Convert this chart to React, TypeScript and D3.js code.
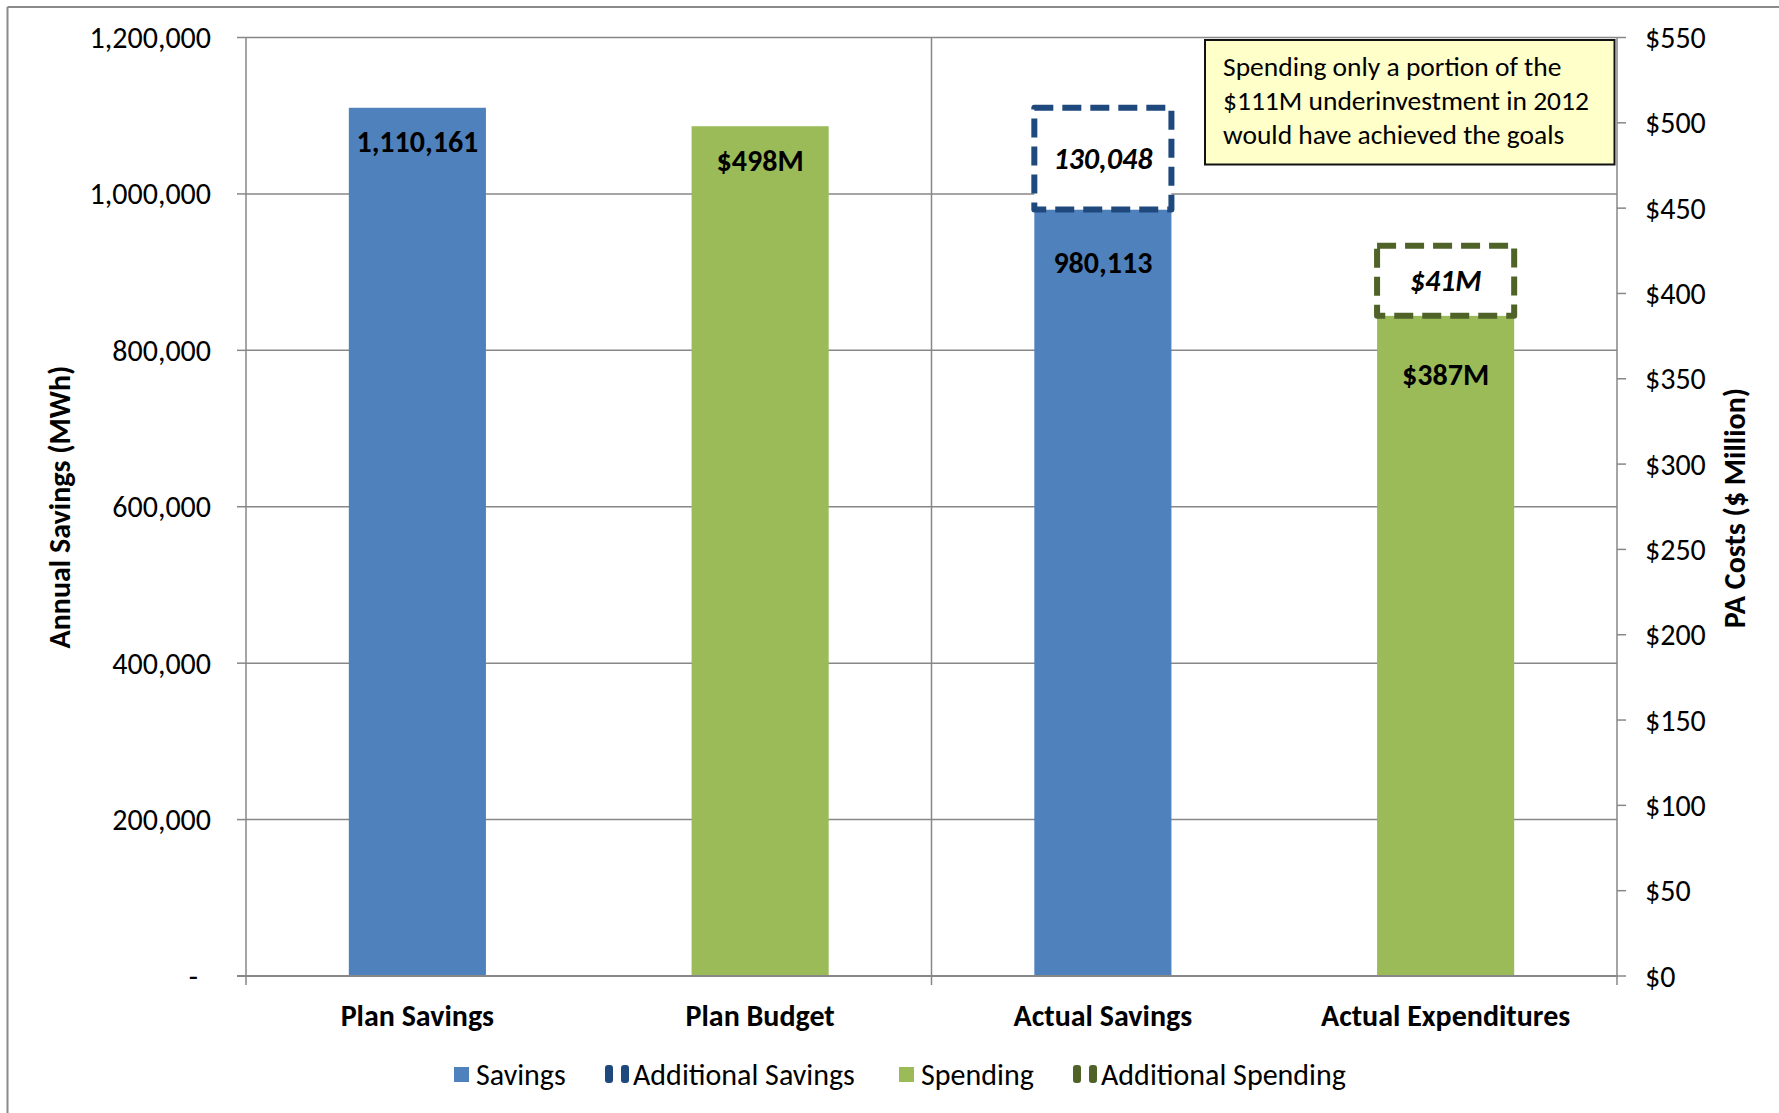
import React from "react";
import * as d3 from "d3";

const categories = ["Plan Savings", "Plan Budget", "Actual Savings", "Actual Expenditures"];
// which axis each bar uses: "left" = MWh, "right" = $ Million
const barAxis = ["left", "right", "left", "right"];
const baseValues = [1110161, 498, 980113, 387];
const baseLabels = ["1,110,161", "$498M", "980,113", "$387M"];
const additionalValues = [0, 0, 130048, 41];
const additionalLabels = ["", "", "130,048", "$41M"];
const leftTicks = [0, 200000, 400000, 600000, 800000, 1000000, 1200000];
const rightTicks = [0, 50, 100, 150, 200, 250, 300, 350, 400, 450, 500, 550];
const legendItems = ["Savings", "Additional Savings", "Spending", "Additional Spending"];
const noteLines = [
  "Spending only a portion of the",
  "$111M underinvestment in 2012",
  "would have achieved the goals",
];

const FONT = "Carlito, Lato, 'Open Sans', sans-serif";
const BLUE = "#4F81BD";
const GREEN = "#9BBB59";
const DARK_BLUE = "#1F497D";
const DARK_GREEN = "#4F6228";
const GRID = "#878787";

const W = 1779;
const H = 1113;
const L = 246;
const R = 1617;
const T = 37.5;
const B = 976;
const labelOffsets = [34, 34, 53, 59];
const FS = 30;

export default function App() {
  const x = d3.scaleBand<string>().domain(categories).range([L, R]).padding(0);
  const yL = d3.scaleLinear().domain([0, 1200000]).range([B, T]);
  const yR = d3.scaleLinear().domain([0, 550]).range([B, T]);
  const bw = x.bandwidth() * 0.4;
  const fmtL = (v: number) => (v === 0 ? "-" : d3.format(",")(v));
  const fmtR = (v: number) => "$" + v;
  const mid = (L + R) / 2;

  return (
    <svg
      width={W}
      height={H}
      style={{ position: "absolute", left: 0, top: 0, background: "#fff" }}
      fontFamily={FONT}
    >
      <rect x={0} y={0} width={W} height={H} fill="#fff" />
      {/* outer border */}
      <line x1={7.5} y1={7} x2={W} y2={7} stroke="#8a8a8a" strokeWidth={2} />
      <line x1={7.5} y1={7} x2={7.5} y2={H} stroke="#8a8a8a" strokeWidth={2} />

      {/* gridlines */}
      {leftTicks.slice(1).map((t) => (
        <line key={"g" + t} x1={L} x2={R} y1={yL(t)} y2={yL(t)} stroke={GRID} strokeWidth={1.5} />
      ))}
      <line x1={mid} x2={mid} y1={T} y2={B + 9} stroke={GRID} strokeWidth={1.5} />

      {/* bars */}
      {categories.map((c, i) => {
        const y = barAxis[i] === "left" ? yL : yR;
        const x0 = (x(c) as number) + (x.bandwidth() - bw) / 2;
        const top = y(baseValues[i]);
        return (
          <g key={c}>
            <rect x={x0} y={top} width={bw} height={B - top} fill={barAxis[i] === "left" ? BLUE : GREEN} />
          </g>
        );
      })}

      {/* axes */}
      <line x1={L} x2={L} y1={T} y2={B + 9} stroke={GRID} strokeWidth={1.5} />
      <line x1={R} x2={R} y1={T} y2={B + 9} stroke={GRID} strokeWidth={1.5} />
      <line x1={L - 9} x2={R} y1={B} y2={B} stroke={GRID} strokeWidth={2} />
      {leftTicks.map((t) => (
        <g key={"lt" + t}>
          <line x1={L - 9} x2={L} y1={yL(t)} y2={yL(t)} stroke={GRID} strokeWidth={1.5} />
          <text
            x={t === 0 ? 198 : 211}
            y={yL(t)}
            dy="0.35em"
            textAnchor="end"
            fontSize={FS}
            fill="#000"
          >
            {fmtL(t)}
          </text>
        </g>
      ))}
      {rightTicks.map((t) => (
        <g key={"rt" + t}>
          <line x1={R} x2={R + 9} y1={yR(t)} y2={yR(t)} stroke={GRID} strokeWidth={1.5} />
          <text x={1645} y={yR(t)} dy="0.35em" textAnchor="start" fontSize={FS} fill="#000">
            {fmtR(t)}
          </text>
        </g>
      ))}

      {/* additional dashed boxes */}
      {categories.map((c, i) => {
        if (!additionalValues[i]) return null;
        const y = barAxis[i] === "left" ? yL : yR;
        const x0 = (x(c) as number) + (x.bandwidth() - bw) / 2;
        const y0 = y(baseValues[i]);
        const y1 = y(baseValues[i] + additionalValues[i]);
        return (
          <g key={"add" + c}>
            <rect
              x={x0}
              y={y1}
              width={bw}
              height={y0 - y1}
              fill="#fff"
              stroke={barAxis[i] === "left" ? DARK_BLUE : DARK_GREEN}
              strokeWidth={6}
              strokeDasharray="19,9"
              strokeLinejoin="round"
            />
            <text
              x={x0 + bw / 2}
              y={(y0 + y1) / 2}
              dy="0.35em"
              textAnchor="middle"
              fontSize={FS}
              fontWeight="bold"
              fontStyle="italic"
            >
              {additionalLabels[i]}
            </text>
          </g>
        );
      })}

      {/* bar labels */}
      {categories.map((c, i) => {
        const y = barAxis[i] === "left" ? yL : yR;
        const top = y(baseValues[i]);
        return (
          <text
            key={"bl" + c}
            x={(x(c) as number) + x.bandwidth() / 2}
            y={top + labelOffsets[i]}
            dy="0.35em"
            textAnchor="middle"
            fontSize={FS}
            fontWeight="bold"
          >
            {baseLabels[i]}
          </text>
        );
      })}

      {/* category labels */}
      {categories.map((c) => (
        <text
          key={"cl" + c}
          x={(x(c) as number) + x.bandwidth() / 2}
          y={1015.5}
          dy="0.35em"
          textAnchor="middle"
          fontSize={FS}
          fontWeight="bold"
        >
          {c}
        </text>
      ))}

      {/* axis titles */}
      <text
        transform={`translate(59,507) rotate(-90)`}
        dy="0.35em"
        textAnchor="middle"
        fontSize={FS}
        fontWeight="bold"
      >
        Annual Savings (MWh)
      </text>
      <text
        transform={`translate(1734,508) rotate(-90)`}
        dy="0.35em"
        textAnchor="middle"
        fontSize={FS}
        fontWeight="bold"
      >
        PA Costs ($ Million)
      </text>

      {/* annotation */}
      <rect x={1205} y={40} width={409.5} height={124.5} fill="#FFFFC9" stroke="#111" strokeWidth={2} />
      {noteLines.map((ln, i) => (
        <text key={"n" + i} x={1223} y={66 + i * 34} dy="0.35em" fontSize={27.5}>
          {ln}
        </text>
      ))}

      {/* legend */}
      <g>
        <rect x={454} y={1067} width={15} height={15} fill={BLUE} />
        <text x={476} y={1074.5} dy="0.35em" fontSize={FS}>{legendItems[0]}</text>

        <rect x={605} y={1065} width={8} height={18} rx={3} fill={DARK_BLUE} />
        <rect x={621} y={1065} width={8} height={18} rx={3} fill={DARK_BLUE} />
        <text x={633} y={1074.5} dy="0.35em" fontSize={FS}>{legendItems[1]}</text>

        <rect x={899} y={1067} width={15} height={15} fill={GREEN} />
        <text x={921} y={1074.5} dy="0.35em" fontSize={FS}>{legendItems[2]}</text>

        <rect x={1073} y={1065} width={8} height={18} rx={3} fill={DARK_GREEN} />
        <rect x={1089} y={1065} width={8} height={18} rx={3} fill={DARK_GREEN} />
        <text x={1101} y={1074.5} dy="0.35em" fontSize={FS}>{legendItems[3]}</text>
      </g>
    </svg>
  );
}
